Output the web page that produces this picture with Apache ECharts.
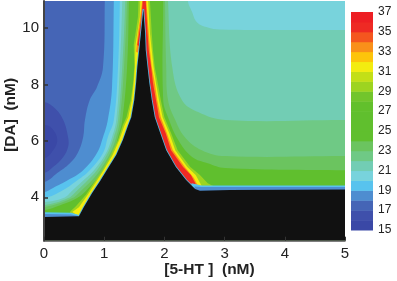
<!DOCTYPE html>
<html><head><meta charset="utf-8">
<style>html,body{margin:0;padding:0;background:#fff}#c{width:397px;height:281px;filter:blur(0.35px)}</style>
<script src="https://cdn.jsdelivr.net/npm/echarts@6/dist/echarts.min.js"></script>
</head><body><div id="c"></div>
<script>
const xTicks = [0, 1, 2, 3, 4, 5];
const yTicks = [4, 6, 8, 10];
const colorbarTicks = [15, 17, 19, 21, 23, 25, 27, 29, 31, 33, 35, 37];
const xRange = [0, 5];
const yRange = [2.46, 10.96];
// colour of each 1-unit band, from 15-16 up to 36-37
const bandColors = ['#3a48a6','#3f50ab','#4565b6','#4e8dd0','#58c3ee','#78d3dc','#72cdb4','#6fc985','#6bc45f',
  '#60bf2e','#60bf2e','#60bf2e','#62c02c','#72c52c','#9dd420','#c3df17','#f3ec10','#fdc40b','#f9901a','#f4561f','#ee2a24','#ed1f24'];
// contour lines, [5-HT, DA]
const core15 = [[0,6.56],[0.13,6.45],[0.22,6.03],[0.13,5.60],[0,5.39]];
const core16 = [[0,7.38],[0.18,7.16],[0.32,6.74],[0.40,6.13],[0.40,5.78],[0.32,5.43],[0.15,5.07],[0,4.86]];
const left18 = [[1.01,10.96],[0.98,8.62],[0.88,7.91],[0.76,7.45],[0.68,6.74],[0.65,6.13],[0.56,5.57],[0.43,5.21],[0.22,4.86],[0,4.54]];
const left19 = [[1.16,10.96],[1.13,7.91],[1.06,6.74],[0.98,6.13],[0.88,5.57],[0.65,4.96],[0.40,4.61],[0.15,4.33],[0,4.18]];
const left20 = [[1.26,10.96],[1.23,8.62],[1.16,6.74],[1.06,6.13],[0.98,5.57],[0.76,4.96],[0.56,4.61],[0.32,4.26],[0,3.97]];
const left21 = [[1.30,10.96],[1.26,8.62],[1.20,6.74],[1.13,6.13],[1.03,5.57],[0.83,4.96],[0.66,4.61],[0.48,4.26],[0.32,3.97],[0,3.83]];
const left22 = [[1.35,10.96],[1.30,8.62],[1.23,6.74],[1.16,6.13],[1.06,5.57],[0.88,4.96],[0.73,4.61],[0.56,4.26],[0.40,3.97],[0,3.72]];
const left23 = [[1.38,10.96],[1.33,8.62],[1.26,6.74],[1.20,6.13],[1.10,5.57],[0.93,4.96],[0.80,4.61],[0.63,4.26],[0.47,3.97],[0,3.65]];
const left24 = [[1.41,10.96],[1.38,8.62],[1.30,6.74],[1.23,6.13],[1.15,5.57],[1.00,4.96],[0.86,4.61],[0.71,4.26],[0.55,3.97],[0.27,3.72],[0,3.55]];
const right21 = [[2.39,10.96],[2.46,10.57],[2.54,10.21],[2.71,10.03],[2.92,9.95],[5,9.93]];
const right22 = [[2.06,10.96],[2.13,8.62],[2.29,7.45],[2.56,7.02],[3.01,6.74],[5,6.74]];
const right23 = [[2.01,10.96],[2.03,8.62],[2.06,7.45],[2.18,6.74],[2.34,6.13],[2.62,5.67],[3.01,5.46],[5,5.46]];
const right24 = [[1.98,10.96],[1.98,7.45],[2.06,6.84],[2.23,6.03],[2.46,5.43],[2.72,5.21],[3.01,5.04],[5,4.96]];
const ridge29 = [[1.57,10.96],[1.56,10.39],[1.52,9.82],[1.49,9.40],[1.50,8.62],[1.48,8.05],[1.44,7.45],[1.37,6.84],[1.31,6.56],[1.23,6.03],[1.11,5.50],[0.97,4.96],[0.84,4.55],[0.70,4.10],[0.53,3.68],[0.44,3.50],[0.42,3.37],
  [0.8,3.0],[2.4,3.0],[2.81,4.40],[2.72,4.50],[2.59,4.79],[2.43,5.07],[2.22,5.67],[2.11,6.28],[2.00,6.84],[1.94,7.45],[1.89,8.05],[1.84,8.62],[1.81,9.22],[1.79,9.82],[1.76,10.96]];
const ridge31 = [[1.60,10.96],[1.59,10.39],[1.55,9.82],[1.52,9.40],[1.51,8.62],[1.49,8.05],[1.46,7.45],[1.40,6.84],[1.34,6.56],[1.25,6.03],[1.14,5.50],[0.99,4.96],[0.86,4.52],[0.73,4.10],[0.58,3.65],[0.47,3.48],
  [0.8,3.0],[2.4,3.0],[2.62,4.40],[2.52,4.79],[2.38,5.07],[2.18,5.67],[2.08,6.28],[1.97,6.84],[1.91,7.45],[1.86,8.05],[1.82,8.62],[1.79,9.22],[1.76,9.82],[1.73,10.96]];
const ridge33 = [[1.63,10.96],[1.60,10.39],[1.56,9.82],[1.54,9.40],[1.53,9.15],[1.62,9.1],[1.85,6.0],[2.2,4.5],[2.4,4.35],
  [2.56,4.40],[2.49,4.68],[2.34,5.07],[2.14,5.67],[2.04,6.28],[1.94,6.84],[1.88,7.45],[1.84,8.05],[1.79,8.62],[1.76,9.22],[1.74,9.82],[1.70,10.96]];
const ridge35 = [[1.64,10.96],[1.62,10.39],[1.58,9.82],[1.55,9.40],[1.62,9.3],[1.65,9.0],[1.85,6.0],[2.2,4.5],[2.4,4.35],
  [2.52,4.47],[2.44,4.79],[2.31,5.07],[2.11,5.67],[2.02,6.28],[1.91,6.84],[1.86,7.45],[1.81,8.05],[1.78,8.62],[1.74,9.22],[1.72,9.82],[1.69,10.96]];
const stripLeft19 = [[0,3.47],[0.45,3.45],[0.57,3.38],[0.6,3.2],[0,3.2]];
const stripLeft18 = [[0,3.41],[0.45,3.39],[0.57,3.34],[0.6,3.2],[0,3.2]];
const stripRight19 = [[2.45,4.5],[2.62,4.42],[5,4.42],[5,4.2],[2.45,4.2]];
const stripRight18 = [[2.5,4.38],[2.62,4.36],[5,4.36],[5,4.2],[2.5,4.2]];
const blackSlopes = [[0.58,3.33],[0.66,3.65],[0.80,4.15],[0.93,4.57],[1.06,5.02],[1.20,5.50],[1.31,6.03],[1.40,6.56],[1.45,6.84],[1.50,7.45],[1.53,8.05],[1.55,8.62],[1.59,9.40],[1.61,9.82],[1.65,10.67],
  [1.68,9.82],[1.69,9.22],[1.72,8.62],[1.75,8.05],[1.79,7.45],[1.84,6.84],[1.93,6.28],[2.03,5.67],[2.19,5.07],[2.36,4.61],[2.51,4.29]];
const blackLeftEnd = [[-0.1,2.3],[-0.1,3.30],[0,3.30]];
const blackRightEnd = [[2.59,4.23],[3.09,4.26],[5,4.28],[5.1,4.28],[5.1,2.3]];
const blackRegion = blackLeftEnd.concat(blackSlopes, blackRightEnd);

const yLo = yRange[0], yHi = yRange[1];
const full = [[0,yLo],[5,yLo],[5,yHi],[0,yHi]];
// the smooth bands run past the plot edge, where the clip cuts them off
const overTop = 11.6, overBottom = 1.8, overLeft = -0.4, overRight = 5.4;
const region = (left, right) => {
  const lastL = left[left.length - 1];
  const rEnd = right.length ? [[overRight, right[right.length - 1][1]]] : [];
  return [[left[0][0], overTop]].concat(left, [[overLeft, lastL[1]], [overLeft, overBottom], [overRight, overBottom]], rEnd,
    right.slice().reverse(), right.length ? [[right[0][0], overTop]] : [[overRight, overTop]]);
};
const core = c => c.concat([[overLeft, c[c.length - 1][1]], [overLeft, c[0][1]]]);
const band = l => bandColors[l - 15];
// painted in this order, [points, fill, stroke, smooth]
const layers = [
  [full, band(17)], [core(core16), band(16), null, 0.4], [core(core15), band(15), null, 0.4],
  [region(left18, []), band(18), null, 0.4], [region(left19, []), band(19), null, 0.4], [region(left20, []), band(20), null, 0.4],
  [region(left21, right21), band(21), null, 0.4], [region(left22, right22), band(22), null, 0.4],
  [region(left23, right23), band(23), null, 0.4], [region(left24, right24), band(24), null, 0.4],
  [ridge29, band(29)], [ridge31, band(31)], [ridge33, band(33)], [ridge35, band(35)],
  [blackSlopes, '#111111', '#55b4e0'],
  [stripLeft19, band(19)], [stripLeft18, band(18)], [stripRight19, band(19)], [stripRight18, band(18)],
  [blackRegion, '#111111']
];
const font = 'Liberation Sans, Arial, sans-serif';
const chart = echarts.init(document.getElementById('c'), null, {renderer:'canvas', width:397, height:281});
chart.setOption({
  animation:false, backgroundColor:'#fff',
  grid:[
    {left:44, top:1, width:301, height:239.7, containLabel:false, outerBoundsMode:'none'},
    {left:351, top:12, width:22, height:218, containLabel:false, outerBoundsMode:'none'}
  ],
  xAxis:[
    {gridIndex:0, type:'value', z:5, min:xRange[0], max:xRange[1], interval:1,
      name:'[5-HT ]  (nM)', nameLocation:'middle', nameGap:21, nameMoveOverlap:false,
      nameTextStyle:{fontFamily:font, fontWeight:'bold', fontSize:15.5, color:'#222', padding:[0,0,0,30]},
      axisLine:{show:true, lineStyle:{color:'#555', width:1.5}}, axisTick:{inside:true, length:4, lineStyle:{color:'#333'}},
      axisLabel:{fontFamily:font, fontSize:15, color:'#222', margin:6, hideOverlap:false, showMinLabel:true, showMaxLabel:true}, splitLine:{show:false}},
    {gridIndex:1, type:'value', min:0, max:1, show:false}
  ],
  yAxis:[
    {gridIndex:0, type:'value', z:5, min:yRange[0], max:yRange[1],
      name:'[DA]  (nM)', nameLocation:'middle', nameGap:25, nameRotate:90, nameMoveOverlap:false,
      nameTextStyle:{fontFamily:font, fontWeight:'bold', fontSize:15.5, color:'#222', padding:[0,0,0,12]},
      axisLine:{show:true, lineStyle:{color:'#444', width:2}},
      axisTick:{show:true, inside:true, length:4, lineStyle:{color:'#333', width:1.5}, customValues:yTicks},
      axisLabel:{fontFamily:font, fontSize:15, color:'#222', margin:5, customValues:yTicks}, splitLine:{show:false}},
    {gridIndex:1, type:'value', position:'right', min:15, max:37,
      axisLine:{show:false}, axisTick:{show:false}, splitLine:{show:false},
      axisLabel:{fontFamily:font, fontSize:12, color:'#222', margin:5, customValues:colorbarTicks}}
  ],
  series:[
    {type:'custom', coordinateSystem:'cartesian2d', xAxisIndex:0, yAxisIndex:0, clip:true, silent:true,
      data:layers.map((l,i)=>[i]),
      renderItem:(params, api)=>{
        const i = api.value(0), l = layers[i], cs = params.coordSys;
        return {type:'polygon', z2:i, shape:{points:l[0].map(p=>api.coord(p)), smooth:l[3]||0},
          clipPath:{type:'rect', shape:{x:cs.x, y:cs.y, width:cs.width, height:cs.height}},
          style:{fill:l[1], stroke:l[2]||null, lineWidth:l[2]?1.6:0}};
      }},
    {type:'custom', coordinateSystem:'cartesian2d', xAxisIndex:1, yAxisIndex:1, silent:true,
      data:bandColors.map((c,i)=>[i]),
      renderItem:(params, api)=>{
        const i = api.value(0);
        const a = api.coord([0,15+i]), b = api.coord([1,16+i]);
        return {type:'rect', shape:{x:a[0], y:b[1], width:b[0]-a[0], height:a[1]-b[1]+0.5}, style:{fill:bandColors[i]}};
      }}
  ]
});
</script></body></html>
